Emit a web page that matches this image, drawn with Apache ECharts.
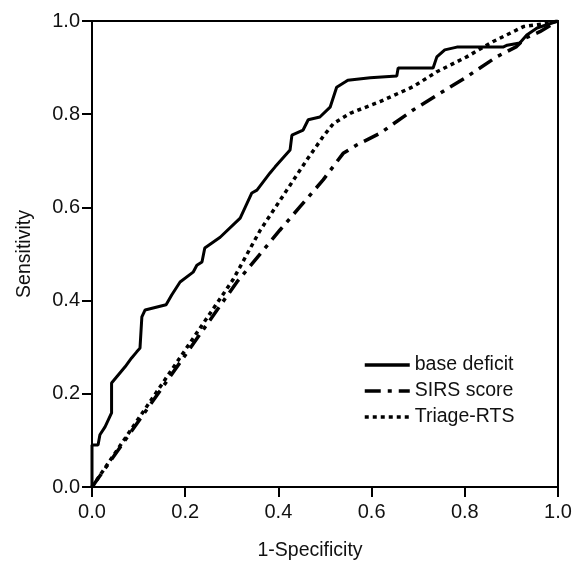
<!DOCTYPE html>
<html>
<head>
<meta charset="utf-8">
<script src="https://cdn.jsdelivr.net/npm/echarts@6/dist/echarts.min.js"></script>
<style>
html,body{margin:0;padding:0;background:#fff;}
#chart{width:583px;height:563px;}
</style>
</head>
<body>
<div id="chart"></div>
<script>
var seriesNames = ['base deficit', 'SIRS score', 'Triage-RTS'];
var xTicks = [0, 0.2, 0.4, 0.6, 0.8, 1.0];
var yTicks = [0, 0.2, 0.4, 0.6, 0.8, 1.0];

var baseDeficit = [
  [0,0],[0,0.09],[0.013,0.09],[0.017,0.112],[0.028,0.129],[0.042,0.159],[0.042,0.223],
  [0.071,0.258],[0.085,0.277],[0.096,0.290],[0.103,0.298],[0.107,0.365],[0.114,0.380],
  [0.159,0.391],[0.171,0.412],[0.189,0.440],[0.217,0.461],[0.225,0.476],[0.236,0.483],
  [0.242,0.513],[0.275,0.536],[0.318,0.577],[0.343,0.631],[0.354,0.637],[0.382,0.674],
  [0.393,0.687],[0.425,0.723],[0.429,0.755],[0.453,0.766],[0.464,0.788],[0.489,0.794],
  [0.511,0.815],[0.525,0.858],[0.543,0.869],[0.549,0.873],[0.597,0.878],[0.654,0.882],
  [0.657,0.899],[0.732,0.899],[0.740,0.923],[0.757,0.938],[0.783,0.944],[0.839,0.944],
  [0.882,0.944],[0.891,0.948],[0.918,0.953],[0.933,0.970],[0.955,0.985],[1,1]
];
var sirsScore = [
  [0,0],[0.311,0.440],[0.403,0.551],[0.446,0.601],[0.496,0.659],[0.539,0.716],
  [0.568,0.734],[0.618,0.759],[0.689,0.809],[0.747,0.845],[0.804,0.880],[0.868,0.923],
  [0.911,0.945],[0.929,0.963],[0.961,0.977],[1,1]
];
var triageRTS = [
  [0,0],[0.302,0.444],[0.361,0.551],[0.418,0.637],[0.461,0.702],[0.496,0.752],
  [0.518,0.780],[0.554,0.802],[0.618,0.827],[0.689,0.859],[0.740,0.891],[0.804,0.923],
  [0.861,0.956],[0.926,0.988],[0.976,0.995],[1,1]
];

var chart = echarts.init(document.getElementById('chart'), null, {renderer:'canvas'});
var font = 'Liberation Sans, Arial, Helvetica, sans-serif';
var fmt = function(v){ return v.toFixed(1); };

chart.setOption({
  animation: false,
  backgroundColor: '#fff',
  grid: {left: 92, top: 21, right: 25, bottom: 76, show: true, borderColor: '#000', borderWidth: 2,
         backgroundColor: 'transparent', containLabel: false, outerBoundsMode: 'none'},
  legend: {
    orient: 'vertical', left: 363, top: 355, padding: 0,
    itemWidth: 45, itemHeight: 14, itemGap: 6,
    itemStyle: {opacity: 0},
    lineStyle: {width: 3.5},
    textStyle: {fontFamily: font, fontSize: 19.5, color: '#111'},
    data: seriesNames
  },
  xAxis: {
    type: 'value', min: xTicks[0], max: xTicks[xTicks.length-1], interval: 0.2,
    name: '1-Specificity', nameLocation: 'middle', nameGap: 54,
    nameTextStyle: {fontFamily: font, fontSize: 19.5, color: '#111', padding: [0, 30, 0, 0]},
    axisLine: {lineStyle: {color: '#000', width: 2}},
    axisTick: {inside: false, length: 10, lineStyle: {color: '#000', width: 2}},
    axisLabel: {fontFamily: font, fontSize: 20, color: '#111', margin: 15, formatter: fmt},
    splitLine: {show: false}
  },
  yAxis: {
    type: 'value', min: yTicks[0], max: yTicks[yTicks.length-1], interval: 0.2,
    name: 'Sensitivity', nameLocation: 'middle', nameGap: 57, nameRotate: 90,
    nameTextStyle: {fontFamily: font, fontSize: 19.5, color: '#111'},
    axisLine: {lineStyle: {color: '#000', width: 2}},
    axisTick: {inside: false, length: 10, lineStyle: {color: '#000', width: 2}},
    axisLabel: {fontFamily: font, fontSize: 20, color: '#111', margin: 12, formatter: fmt},
    splitLine: {show: false}
  },
  series: [
    {name: seriesNames[0], type: 'line', data: baseDeficit, symbol: 'none',
     lineStyle: {color: '#000', width: 3, type: 'solid'}, itemStyle: {color: '#000'}},
    {name: seriesNames[1], type: 'line', data: sirsScore, symbol: 'none',
     lineStyle: {color: '#000', width: 3.5, type: [16, 7, 4, 7]}, itemStyle: {color: '#000'}},
    {name: seriesNames[2], type: 'line', data: triageRTS, symbol: 'none',
     lineStyle: {color: '#000', width: 3.5, type: [4, 4]}, itemStyle: {color: '#000'}}
  ]
});
</script>
</body>
</html>
